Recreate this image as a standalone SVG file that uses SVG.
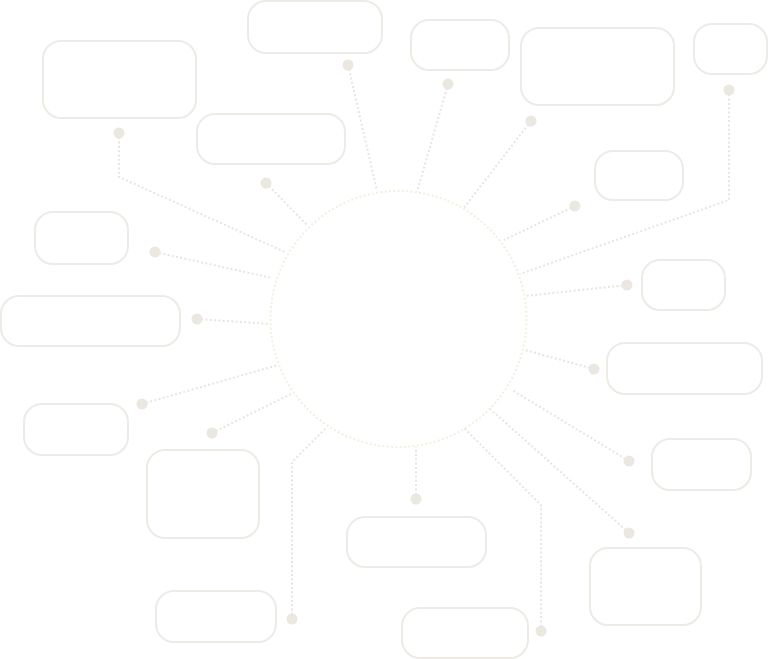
<svg xmlns="http://www.w3.org/2000/svg" width="768" height="659" viewBox="0 0 768 659">
<style>
.box{fill:#fff;stroke:#eeebe6;stroke-width:2}
.c{fill:none;stroke:#e8e5e0;stroke-width:2;stroke-dasharray:2 2.3}
.d{fill:#ebe7e1}
.hub{fill:none;stroke:#f4eee1;stroke-width:2;stroke-dasharray:2 2.3}
</style>
<rect width="768" height="659" fill="#fff"/>
<g id="connectors">
<polyline class="c" points="119,133 119,177 285,252"/>
<polyline class="c" points="348,65 377,191"/>
<polyline class="c" points="448,84 417,192"/>
<polyline class="c" points="531,121 463,209"/>
<polyline class="c" points="729,90 729,200 520,274"/>
<polyline class="c" points="266,183 307,225"/>
<polyline class="c" points="575,206 504,240"/>
<polyline class="c" points="155,252 272,278"/>
<polyline class="c" points="627,285 525,296"/>
<polyline class="c" points="197,319 270,324"/>
<polyline class="c" points="594,369 525,350"/>
<polyline class="c" points="142,404 278,365"/>
<polyline class="c" points="212,433 293,393"/>
<polyline class="c" points="629,461 512,390"/>
<polyline class="c" points="416,499 416,447"/>
<polyline class="c" points="629,533 489,408"/>
<polyline class="c" points="292,619 292,462 327,427"/>
<polyline class="c" points="541,631 541,505 464,428"/>
<circle class="d" cx="119" cy="133" r="5.5"/>
<circle class="d" cx="348" cy="65" r="5.5"/>
<circle class="d" cx="448" cy="84" r="5.5"/>
<circle class="d" cx="531" cy="121" r="5.5"/>
<circle class="d" cx="729" cy="90" r="5.5"/>
<circle class="d" cx="266" cy="183" r="5.5"/>
<circle class="d" cx="575" cy="206" r="5.5"/>
<circle class="d" cx="155" cy="252" r="5.5"/>
<circle class="d" cx="627" cy="285" r="5.5"/>
<circle class="d" cx="197" cy="319" r="5.5"/>
<circle class="d" cx="594" cy="369" r="5.5"/>
<circle class="d" cx="142" cy="404" r="5.5"/>
<circle class="d" cx="212" cy="433" r="5.5"/>
<circle class="d" cx="629" cy="461" r="5.5"/>
<circle class="d" cx="416" cy="499" r="5.5"/>
<circle class="d" cx="629" cy="533" r="5.5"/>
<circle class="d" cx="292" cy="619" r="5.5"/>
<circle class="d" cx="541" cy="631" r="5.5"/>
</g>
<g id="hub"><circle class="hub" cx="398.5" cy="319" r="128"/></g>
<g id="n1"><rect class="box" x="43" y="41" width="153" height="77" rx="18"/></g>
<g id="n2"><rect class="box" x="248" y="1" width="134" height="52" rx="18"/></g>
<g id="n3"><rect class="box" x="411" y="20" width="98" height="50" rx="18"/></g>
<g id="n4"><rect class="box" x="521" y="28" width="153" height="77" rx="18"/></g>
<g id="n5"><rect class="box" x="694" y="24" width="73" height="50" rx="18"/></g>
<g id="n6"><rect class="box" x="197" y="114" width="148" height="50" rx="18"/></g>
<g id="n7"><rect class="box" x="595" y="151" width="88" height="49" rx="18"/></g>
<g id="n8"><rect class="box" x="35" y="212" width="93" height="52" rx="18"/></g>
<g id="n9"><rect class="box" x="642" y="260" width="83" height="50" rx="18"/></g>
<g id="n10"><rect class="box" x="1" y="296" width="179" height="50" rx="18"/></g>
<g id="n11"><rect class="box" x="607" y="343" width="155" height="51" rx="18"/></g>
<g id="n12"><rect class="box" x="24" y="404" width="104" height="51" rx="18"/></g>
<g id="n13"><rect class="box" x="147" y="450" width="112" height="88" rx="18"/></g>
<g id="n14"><rect class="box" x="652" y="439" width="99" height="51" rx="18"/></g>
<g id="n15"><rect class="box" x="347" y="517" width="139" height="50" rx="18"/></g>
<g id="n16"><rect class="box" x="590" y="548" width="111" height="77" rx="18"/></g>
<g id="n17"><rect class="box" x="156" y="591" width="120" height="51" rx="18"/></g>
<g id="n18"><rect class="box" x="402" y="608" width="126" height="50" rx="18"/></g>
</svg>
